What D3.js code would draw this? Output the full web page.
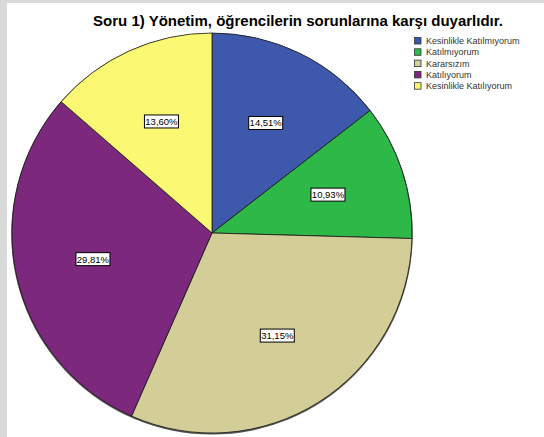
<!DOCTYPE html>
<html lang="tr">
  <head>
    <meta charset="utf-8" />
    <style>
      body {
        margin: 0;
        background: #d9d9d9;
      }
      text {
        font-family: "Liberation Sans", Arial, sans-serif;
      }
    </style>
    <script src="https://d3js.org/d3.v7.min.js"></script>
  </head>
  <body>
    <svg width="544" height="437"></svg>
    <script>
      const categories = [
        "Kesinlikle Katılmıyorum",
        "Katılmıyorum",
        "Kararsızım",
        "Katılıyorum",
        "Kesinlikle Katılıyorum",
      ];
      const percents = [14.51, 10.93, 31.15, 29.81, 13.6];
      const colors = ["#3e58ac", "#2eb848", "#d3ce97", "#7c287d", "#fbf873"];

      const svg = d3.select("svg");
      const cx = 212,
        cy = 233,
        radius = 200;

      // white panel
      svg
        .append("rect")
        .attr("x", 7)
        .attr("y", 3)
        .attr("width", 537)
        .attr("height", 434)
        .attr("fill", "#fff");

      svg
        .append("text")
        .attr("x", 298)
        .attr("y", 26)
        .attr("text-anchor", "middle")
        .attr("font-size", "15px")
        .attr("font-weight", "bold")
        .attr("fill", "#000")
        .text("Soru 1) Yönetim, öğrencilerin sorunlarına karşı duyarlıdır.");

      const pie = d3.pie().sort(null).value(function (d) {
        return d;
      });
      const arc = d3.arc().innerRadius(0).outerRadius(radius);
      const labelArc = d3.arc().innerRadius(122).outerRadius(122);

      const g = svg
        .append("g")
        .attr("transform", "translate(" + cx + "," + cy + ")");

      const arcs = pie(percents);

      g.append("circle")
        .attr("r", radius + 0.8)
        .attr("cy", 0.8)
        .attr("fill", "#555");

      g.selectAll(".slice")
        .data(arcs)
        .enter()
        .append("path")
        .attr("class", "slice")
        .attr("d", arc)
        .attr("fill", function (d, i) {
          return colors[i];
        })
        .attr("stroke", "#1a1a1a")
        .attr("stroke-width", 0.8);

      const fmt = function (v) {
        return v.toFixed(2).replace(".", ",") + "%";
      };

      const labels = g
        .selectAll(".lbl")
        .data(arcs)
        .enter()
        .append("g")
        .attr("class", "lbl")
        .attr("transform", function (d) {
          return "translate(" + labelArc.centroid(d) + ")";
        });

      labels
        .append("rect")
        .attr("x", -17)
        .attr("y", -7)
        .attr("width", 34)
        .attr("height", 13)
        .attr("fill", "#fff")
        .attr("stroke", "#000")
        .attr("stroke-width", 1);

      labels
        .append("text")
        .attr("text-anchor", "middle")
        .attr("y", 3)
        .attr("font-size", "9.5px")
        .attr("fill", "#000")
        .text(function (d) {
          return fmt(d.data);
        });

      const legend = svg
        .append("g")
        .attr("transform", "translate(414,37)");

      const rows = legend
        .selectAll(".row")
        .data(categories)
        .enter()
        .append("g")
        .attr("class", "row")
        .attr("transform", function (d, i) {
          return "translate(0," + i * 11.3 + ")";
        });

      rows
        .append("rect")
        .attr("x", 0.5)
        .attr("y", 0.5)
        .attr("width", 6.5)
        .attr("height", 6.5)
        .attr("fill", function (d, i) {
          return colors[i];
        })
        .attr("stroke", "#333")
        .attr("stroke-width", 0.8);

      rows
        .append("text")
        .attr("x", 12)
        .attr("y", 7)
        .attr("font-size", "9px")
        .attr("fill", "#333")
        .text(function (d) {
          return d;
        });
    </script>
  </body>
</html>
